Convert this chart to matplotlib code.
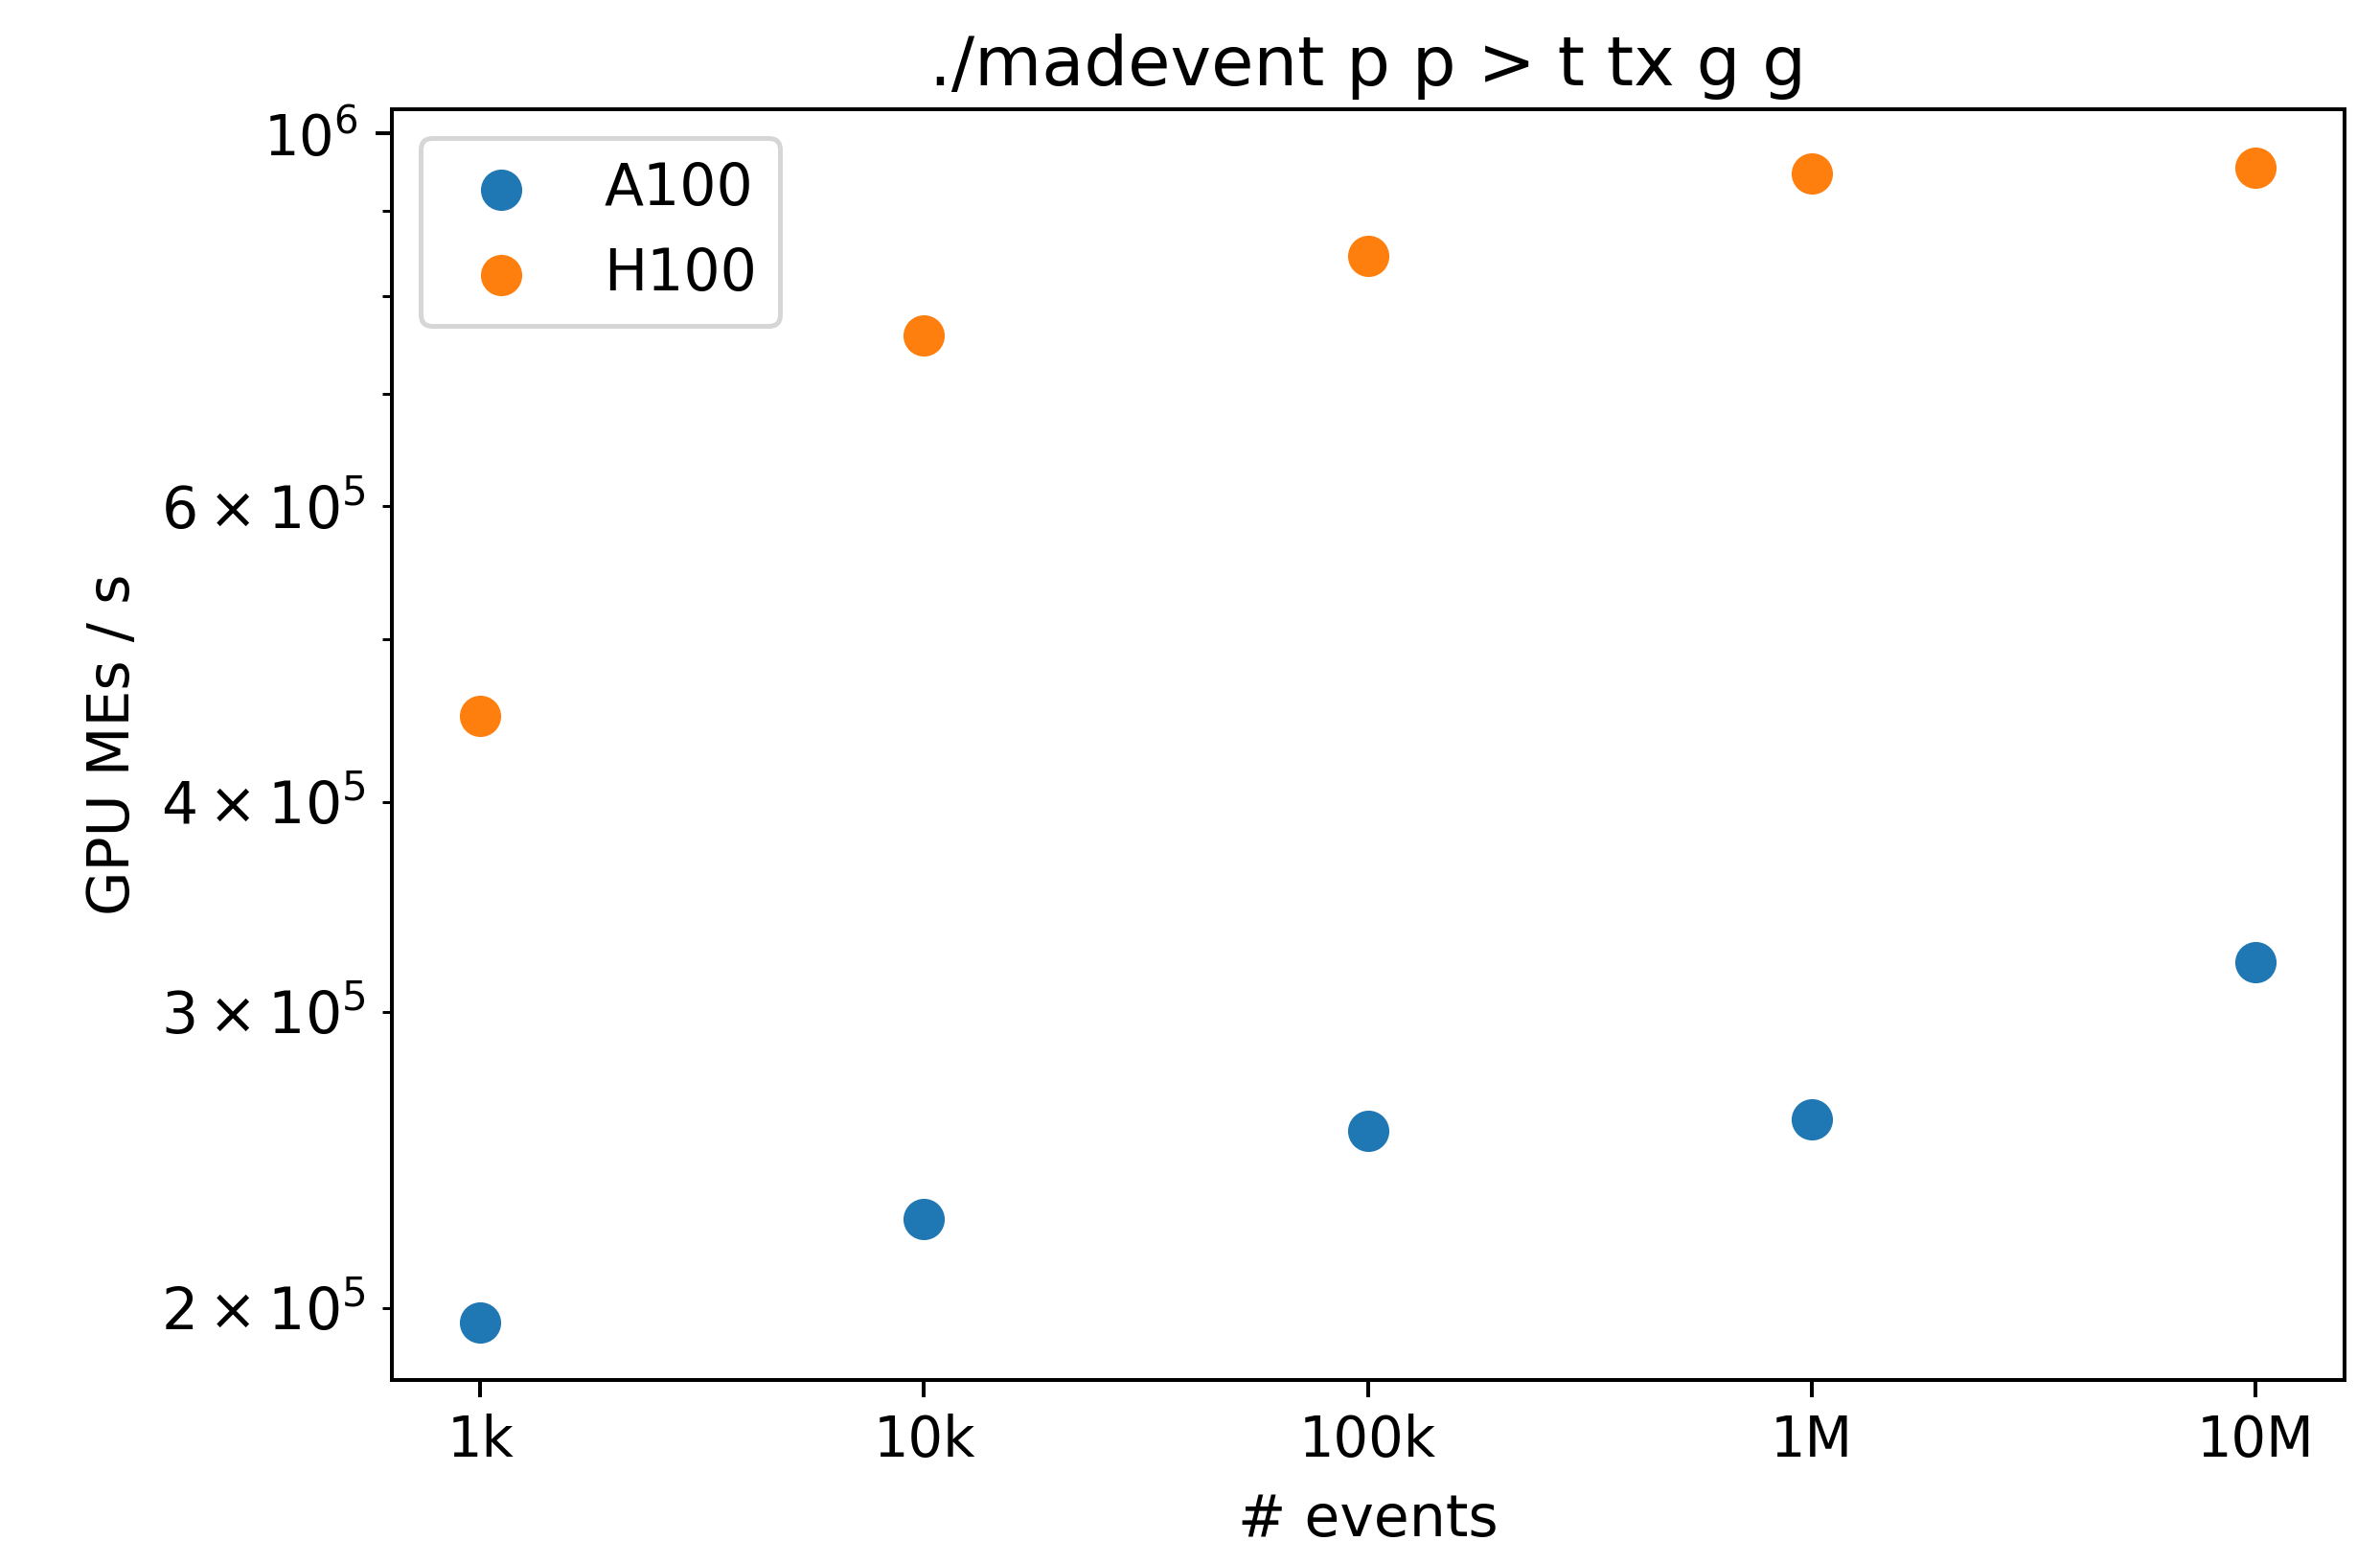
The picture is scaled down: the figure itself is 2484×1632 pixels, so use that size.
import matplotlib.pyplot as plt
import numpy as np

plt.rcParams['font.size'] = 12

# events per run
n_events = [1e3, 1e4, 1e5, 1e6, 1e7]
event_labels = ['1k', '10k', '100k', '1M', '10M']

# GPU matrix elements per second
a100 = [1.96e5, 2.26e5, 2.55e5, 2.59e5, 3.21e5]
h100 = [4.50e5, 7.58e5, 8.46e5, 9.47e5, 9.55e5]

fig, ax = plt.subplots(figsize=(2484 / 360, 1632 / 360), dpi=360)
plt.subplots_adjust(left=0.1645, right=0.985, top=0.93, bottom=0.1175)

ax.scatter(n_events, a100, s=58, label='A100')
ax.scatter(n_events, h100, s=58, label='H100')

ax.set_xscale('log')
ax.set_yscale('log')
ax.set_xticks(n_events)
ax.set_xticklabels(event_labels)
ax.xaxis.set_minor_locator(plt.NullLocator())
ax.tick_params(labelsize=11.5)

ax.set_xlabel('# events', labelpad=5)
ax.set_ylabel('GPU MEs / s')
ax.set_title('./madevent p p > t tx g g', pad=5)
ax.legend(loc='upper left')

plt.savefig('out.png', dpi=360)
